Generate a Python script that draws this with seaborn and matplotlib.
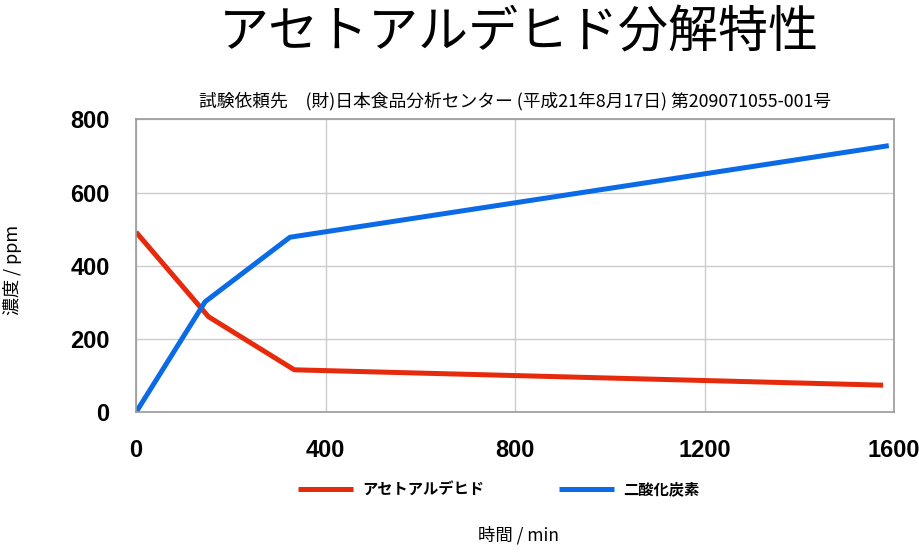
import numpy as np
import pandas as pd
import matplotlib
matplotlib.use('Agg')
import matplotlib.pyplot as plt
import seaborn as sns

# データ
acet_time = [0, 153, 334, 1577]
acet_ppm = [492, 261, 116, 74]
co2_time = [0, 146, 325, 1589]
co2_ppm = [0, 302, 478, 728]

series_names = ['アセトアルデヒド', '二酸化炭素']
x_ticks = [0, 400, 800, 1200, 1600]
y_ticks = [0, 200, 400, 600, 800]

df = pd.concat([
    pd.DataFrame({'time': acet_time, 'ppm': acet_ppm, 'series': series_names[0]}),
    pd.DataFrame({'time': co2_time, 'ppm': co2_ppm, 'series': series_names[1]}),
])

sns.set_theme(style='white')
plt.rcParams['font.family'] = ['Noto Sans CJK JP', 'DejaVu Sans']
plt.rcParams['text.color'] = 'black'
plt.rcParams['xtick.color'] = 'black'
plt.rcParams['ytick.color'] = 'black'

fig = plt.figure(figsize=(9.19, 5.52), dpi=100)
ax = fig.add_axes([0.148, 0.2531, 0.8248, 0.5308])

palette = {series_names[0]: '#e62a0c', series_names[1]: '#0b6be6'}
sns.lineplot(data=df, x='time', y='ppm', hue='series', palette=palette,
             linewidth=3.6, ax=ax, legend=True, sort=False,
             solid_capstyle='butt')

ax.set_xlim(0, 1600)
ax.set_ylim(0, 800)
ax.set_xticks(x_ticks)
ax.set_yticks(y_ticks)
ax.grid(True, color='#cccccc', linewidth=1)
for s in ax.spines.values():
    s.set_color('#9a9a9a')
    s.set_linewidth(1.2)
ax.tick_params(axis='both', length=0, labelsize=17)
ax.tick_params(axis='x', pad=19)
ax.tick_params(axis='y', pad=19)
for lab in ax.get_xticklabels() + ax.get_yticklabels():
    lab.set_fontfamily(['Liberation Sans', 'DejaVu Sans'])
    lab.set_fontweight('bold')

ax.set_xlabel('')
ax.set_ylabel('')

handles, labels = ax.get_legend_handles_labels()
ax.get_legend().remove()
leg = fig.legend(handles, labels, loc='center', bbox_to_anchor=(0.5425, 0.114),
                 ncol=2, frameon=False, handlelength=3.6, columnspacing=4.9,
                 handletextpad=0.6, prop={'size': 11, 'weight': 'bold'})

fig.text(0.565, 0.94, 'アセトアルデヒド分解特性', ha='center', va='center',
         fontsize=36)
fig.text(0.56, 0.817, '試験依頼先　(財)日本食品分析センター (平成21年8月17日) 第209071055-001号',
         ha='center', va='center', fontsize=12.8)
fig.text(0.564, 0.03, '時間 / min', ha='center', va='center', fontsize=12.5)
fig.text(0.014, 0.511, '濃度 / ppm', ha='center', va='center', fontsize=13,
         rotation=90)

fig.savefig('out.png', dpi=100)
